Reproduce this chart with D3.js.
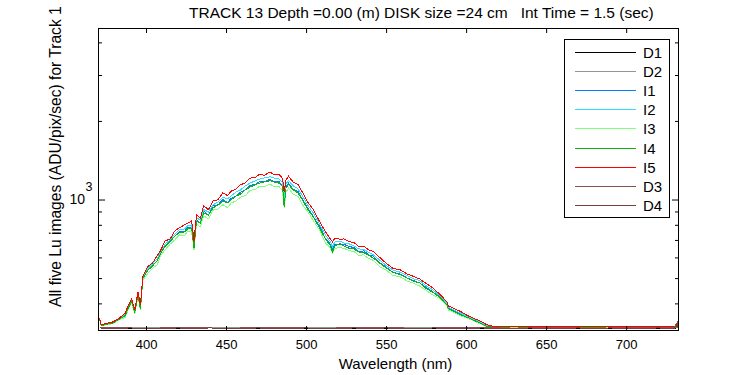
<!DOCTYPE html>
<html><head><meta charset="utf-8">
<script src="https://cdn.jsdelivr.net/npm/d3@7"></script>
<style>
body{margin:0;background:#fff}
svg{display:block}
text{font-family:"Liberation Sans",Arial,sans-serif;fill:#000}
</style>
</head><body>
<svg id="c" width="750" height="375"></svg>
<script>
// ---------- DATA ----------
const wavelengths=[371,372,375,379,383,
387,389,391,393,395,396.5,398,
401,404,407,409,412,415,418,
421,424,426,428.5,430,431.5,434,436,439,442,445,
448,451,453,456,459,462,465,468,471,474,477.5,480,483,485.3,486.3,487.5,489,492,495,498,
501,504.5,508.5,512,515,516.5,518,
521,523.5,527,530,533,536,539,542,546,
550,554,559,563,567,571,575,579,
584,588,589,593,597,
601,605,609,613,617,
620,630,640,650,660,670,680,690,700,710,720,730,732,733];

const I5=[352,331,335,339,350,
367,394,417,377,443,394,509,
553,570,610,636,695,705,758,
780,800,810,828,694,872,850,945,915,990,998,
1062,1035,1075,1095,1138,1158,1208,1212,1252,1238,1275,1245,1248,1206,1068,1188,1228,1165,1140,1060,
978,915,822,756,708,688,710,
705,706,690,684,660,663,642,633,600,
570,546,537,519,508,496,477,459,
431,405,391,381,371,
359,350,342,331,327,
326,325,326,327,325,326,326,325,327,326,325,326,326,345];

const I2=[350,331,334,338,349,
364,390,413,374,439,390,504,
543,566,593,630,676,700,738,
767,771,794,799,670,849,835,915,896,955,978,
1019,1005,1031,1066,1087,1127,1156,1178,1198,1209,1223,1209,1198,1164,1010,1147,1181,1129,1098,1027,
953,888,805,733,692,660,688,
693,682,676,663,647,643,629,614,586,
559,538,526,512,497,489,467,452,
425,400,386,376,366,
356,347,339,328,326,
325,325,326,325,325,326,325,325,326,325,325,326,325,330];

const I1=[349,330,333,337,348,
361,387,410,370,435,387,500,
536,560,582,625,662,694,722,
756,752,785,778,660,834,815,905,872,945,955,
999,972,1010,1030,1066,1090,1133,1140,1174,1168,1196,1170,1172,1130,985,1117,1155,1094,1073,995,
930,860,788,710,676,645,672,
676,674,660,655,630,636,614,607,572,
551,527,518,501,490,479,461,443,
422,396,382,373,363,
354,345,338,327,325,
325,324,325,325,324,325,325,324,325,325,324,325,325,328];

const I4=[348,329,332,336,347,
359,385,408,369,433,380,498,
534,556,583,619,664,687,725,
746,751,773,777,650,827,812,890,872,930,952,
984,970,995,1029,1049,1087,1116,1137,1156,1167,1181,1167,1156,1124,940,1107,1140,1090,1059,991,
919,857,777,708,667,630,664,
675,664,650,646,629,626,612,597,571,
547,527,514,501,486,479,456,442,
420,394,381,371,361,
353,344,336,326,325,
324,325,324,324,325,324,324,325,324,324,325,324,324,327];

const I3=[347,328,331,334,345,
354,380,402,364,428,376,491,
520,545,563,608,642,674,700,
732,726,758,752,640,806,786,866,844,912,920,
956,930,968,986,1020,1034,1085,1090,1124,1118,1146,1118,1122,1080,930,1069,1106,1046,1028,950,
900,830,762,684,654,625,650,
654,651,637,632,610,614,594,585,553,
537,513,505,488,478,466,449,431,
416,391,377,368,358,
351,342,334,325,324,
324,324,325,324,324,324,325,324,324,324,324,325,324,326];

const darkWavelengths=[371,380,390,400,410,420,430,440,450,460,470,480,490,500,510,520,530,540,550,560,570,580,590,600,610,620,630,640,650,660,670,680,690,700,710,720,730,733];
const D1=[322,321,321,322,321,320,321,322,321,321,320,321,322,321,321,320,321,322,321,321,320,321,322,321,321,321,320,321,322,321,321,320,321,321,322,321,321,323];
const D2=[324,323,323,324,323,322,323,323,324,323,323,322,323,324,323,323,322,323,323,324,323,323,322,323,324,323,323,323,322,323,324,323,323,322,323,323,324,326];
const D3=[323,322,322,321,322,323,322,322,321,322,322,323,322,322,321,322,322,323,322,322,321,322,322,323,322,322,321,322,323,322,322,321,322,322,323,322,322,348];
const D4=[322,321,322,321,321,322,321,322,321,321,322,321,321,322,321,321,322,321,322,321,321,322,321,321,322,321,321,322,321,321,322,321,322,321,321,322,321,340];

const seriesNames=["D1","D2","I1","I2","I3","I4","I5","D3","D4"];
const seriesColors=["#000000","#959595","#0080ff","#33ddff","#80ff80","#10b010","#ff0000","#8a4f4f","#784040"];
const xTicks=[400,450,500,550,600,650,700];
const yMinorTicks=[400,500,600,700,800,900,2000,3000,4000];
const yMajorTicks=[1000];
const titleText="TRACK 13 Depth =0.00 (m) DISK size =24 cm   Int Time = 1.5 (sec)";
const xLabel="Wavelength (nm)";
const yLabel="All five Lu images (ADU/pix/sec) for Track 1";

// ---------- CHART ----------
const seriesData={
  D1:[darkWavelengths,D1],D2:[darkWavelengths,D2],
  I1:[wavelengths,I1],I2:[wavelengths,I2],I3:[wavelengths,I3],I4:[wavelengths,I4],I5:[wavelengths,I5],
  D3:[darkWavelengths,D3],D4:[darkWavelengths,D4]
};
const svg=d3.select("#c");
const M={l:98,r:679,t:28,b:331};
const x=d3.scaleLinear().domain([370,733]).range([M.l,M.r]);
const y=d3.scaleLog().domain([313.5,4541]).range([M.b,M.t]);

svg.append("defs").append("clipPath").attr("id","clip")
  .append("rect").attr("x",M.l).attr("y",M.t).attr("width",M.r-M.l).attr("height",M.b-M.t);

const line=d3.line().x(d=>x(d[0])).y(d=>y(d[1]));
const plot=svg.append("g").attr("clip-path","url(#clip)");
seriesNames.forEach((n,i)=>{
  const [wl,vals]=seriesData[n];
  const pts=wl.map((w,k)=>[w,vals[k]]);
  plot.append("path").datum(pts).attr("d",line)
    .attr("fill","none").attr("stroke",seriesColors[i]).attr("stroke-width",1)
    .attr("shape-rendering","crispEdges");
});

function clean(g){g.select(".domain").remove();g.selectAll("line").attr("stroke","#000");}
svg.append("g").attr("transform",`translate(0,${M.b})`)
  .call(d3.axisBottom(x).tickValues(xTicks).tickSizeInner(-5).tickSizeOuter(0).tickPadding(9).tickFormat(d3.format("d")))
  .call(clean).call(g=>g.selectAll("text").attr("font-size",13).attr("font-family","Liberation Sans, Arial, sans-serif"));
svg.append("g").attr("transform",`translate(0,${M.t})`)
  .call(d3.axisTop(x).tickValues(xTicks).tickSizeInner(-5).tickSizeOuter(0).tickFormat(""))
  .call(clean);
svg.append("g").attr("transform",`translate(${M.l},0)`)
  .call(d3.axisLeft(y).tickValues(yMinorTicks).tickSizeInner(-4).tickSizeOuter(0).tickFormat(""))
  .call(clean);
svg.append("g").attr("transform",`translate(${M.l},0)`)
  .call(d3.axisLeft(y).tickValues(yMajorTicks).tickSizeInner(-7).tickSizeOuter(0).tickFormat(""))
  .call(clean);
svg.append("g").attr("transform",`translate(${M.r},0)`)
  .call(d3.axisRight(y).tickValues(yMinorTicks).tickSizeInner(-4).tickSizeOuter(0).tickFormat(""))
  .call(clean);
svg.append("g").attr("transform",`translate(${M.r},0)`)
  .call(d3.axisRight(y).tickValues(yMajorTicks).tickSizeInner(-7).tickSizeOuter(0).tickFormat(""))
  .call(clean);

svg.append("rect").attr("x",M.l+0.5).attr("y",M.t+0.5).attr("width",M.r-M.l-1).attr("height",M.b-M.t-1)
  .attr("fill","none").attr("stroke","#000").attr("stroke-width",1);

// 10^3 label
yMajorTicks.forEach(v=>{
  svg.append("text").attr("x",85).attr("y",y(v)+4.5).attr("text-anchor","end").attr("font-size",14).text("10");
  svg.append("text").attr("x",85.5).attr("y",y(v)-9).attr("font-size",12.5).text(String(Math.round(Math.log10(v))));
});

svg.append("text").attr("x",189).attr("y",18).attr("font-size",15.5).style("white-space","pre").text(titleText);
svg.append("text").attr("x",395.5).attr("y",369).attr("text-anchor","middle").attr("font-size",15).text(xLabel);
svg.append("text").attr("transform","translate(61,307) rotate(-90)").attr("font-size",15.6).text(yLabel);

// legend
const lg=svg.append("g");
lg.append("rect").attr("x",564.5).attr("y",39.5).attr("width",105).attr("height",178)
  .attr("fill","#fff").attr("stroke","#000").attr("stroke-width",1);
seriesNames.forEach((n,i)=>{
  const yy=Math.round(51.5+i*19.2)+0.5;
  lg.append("line").attr("x1",575).attr("x2",636).attr("y1",yy).attr("y2",yy)
    .attr("stroke",seriesColors[i]).attr("stroke-width",1).attr("shape-rendering","crispEdges");
  lg.append("text").attr("x",643).attr("y",yy+5.5).attr("font-size",15).text(n);
});
</script>
</body></html>
